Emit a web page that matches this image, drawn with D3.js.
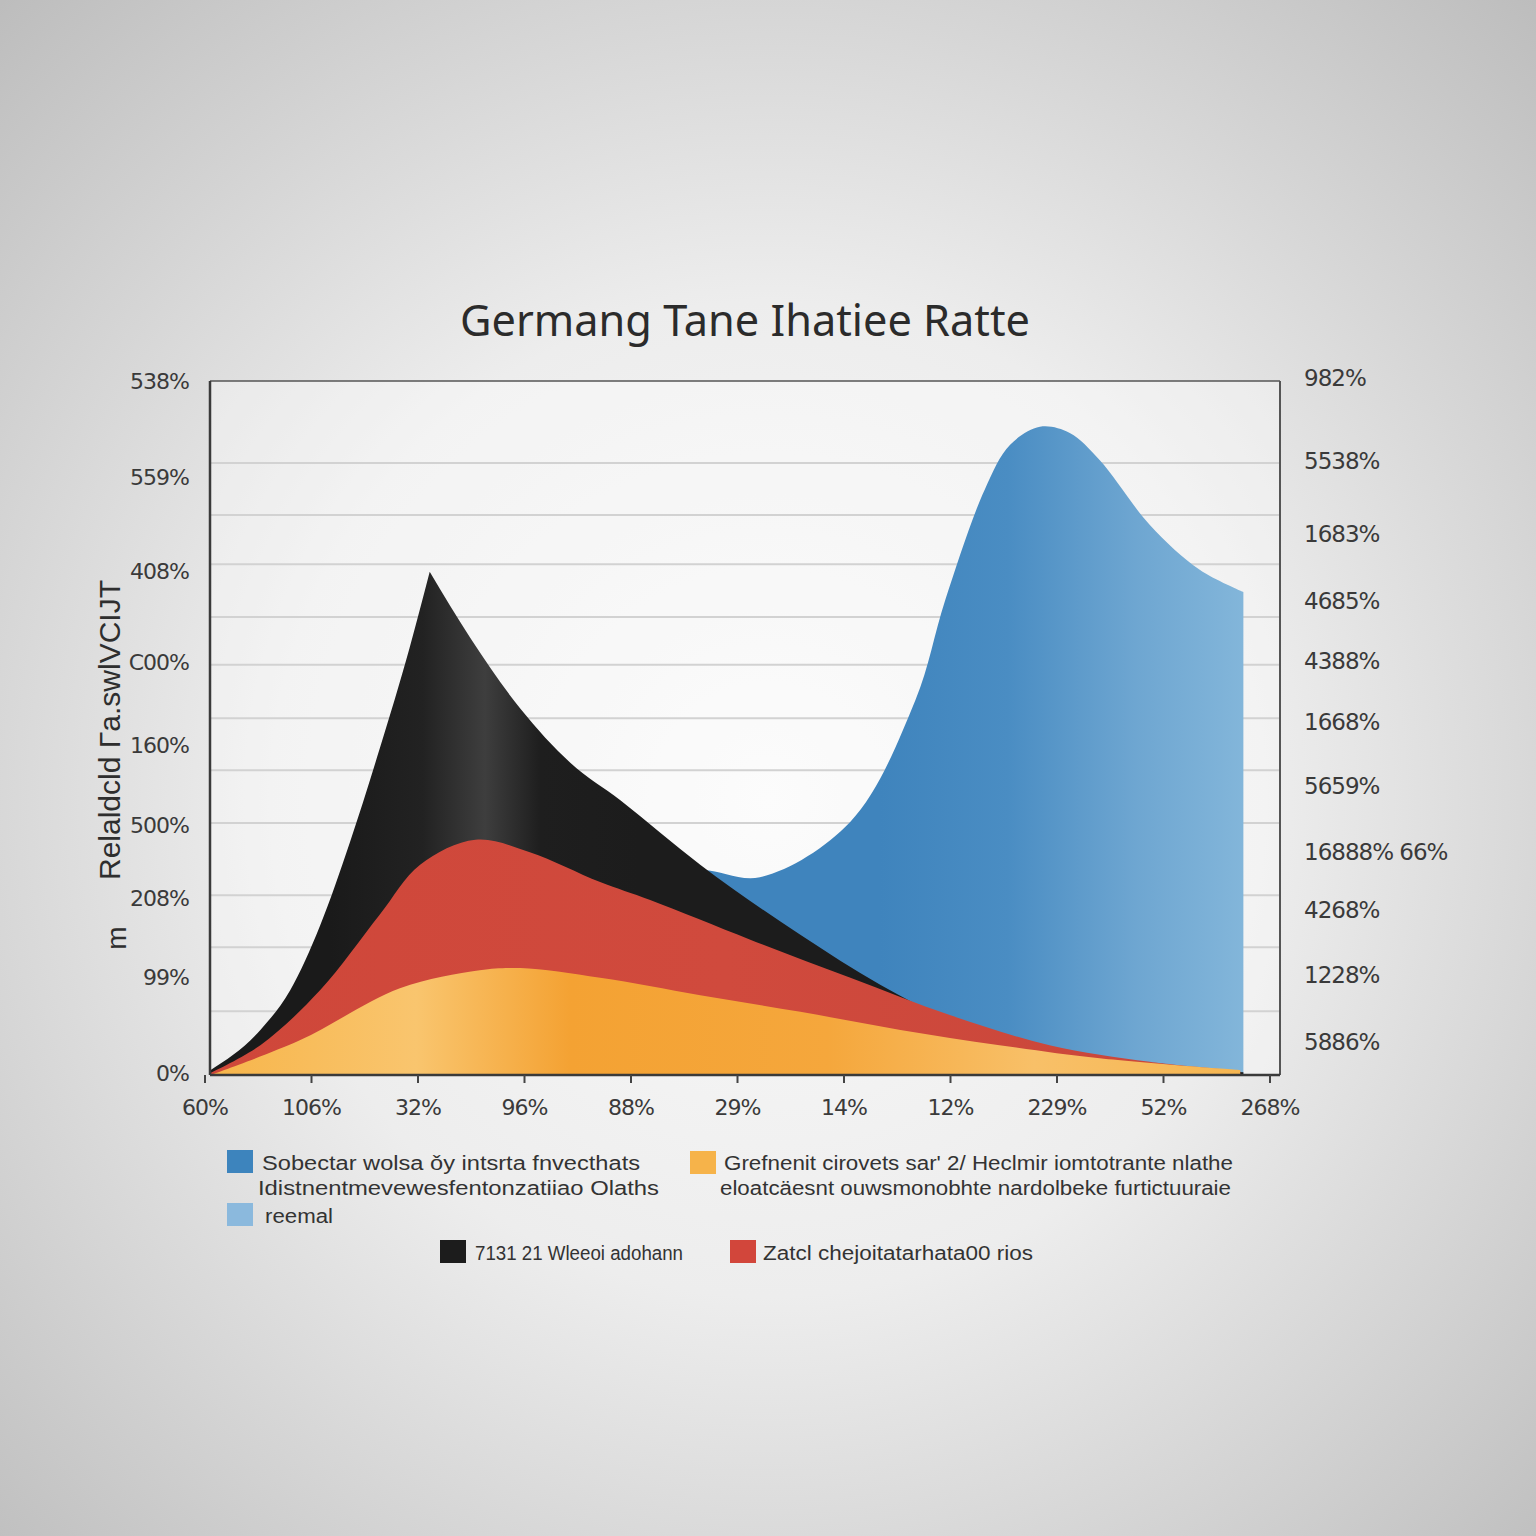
<!DOCTYPE html>
<html><head><meta charset="utf-8">
<script src="https://cdn.jsdelivr.net/npm/d3@7"></script>
<style>html,body{margin:0;padding:0;background:#ddd;}svg{display:block;}</style>
</head><body>
<script>
// ---- data ----
const xLabels = ["60%","106%","32%","96%","88%","29%","14%","12%","229%","52%","268%"];
const leftLabels = ["538%","559%","408%","C00%","160%","500%","208%","99%","0%"];
const leftPos = [100,86.2,72.6,59.5,47.6,36.0,25.5,14.1,0.3];
const rightLabels = ["982%","5538%","1683%","4685%","4388%","1668%","5659%","16888% 66%","4268%","1228%","5886%"];
const rightPos = [100.4,88.5,78,68.3,59.7,50.9,41.6,32.1,23.8,14.4,4.8];
const gridValues = [88.2,80.7,73.6,66.0,59.1,51.4,43.9,36.3,25.9,18.4,9.2];

const blueX  = [0.05,1.83,3.24,4.18,4.65,5.21,6.06,6.67,6.95,7.32,7.56,7.84,8.12,8.40,8.87,9.34,9.75];
const blueY  = [0,10.8,20.9,27.4,29.5,28.5,36.5,54.0,68.4,84.3,90.8,93.4,92.5,88.6,79.3,72.8,69.6];
const blackX = [0.05,0.52,0.8,1.08,1.36,1.64,1.92,2.11,2.49,2.96,3.43,3.90,4.65,5.59,6.34,7.0,7.93,8.87,9.75];
const blackY = [0.7,6.5,12.2,21.5,33.5,47.0,61.5,72.5,63.0,52.8,45.0,39.6,30.3,20.2,13.0,7.9,3.6,1.3,0.4];
const blackPeak = 7; // index of the sharp peak
const redX   = [0.05,0.52,1.08,1.64,2.02,2.54,3.05,3.71,4.18,5.12,6.06,7.0,7.93,8.87,9.72];
const redY   = [0.3,4.3,12.2,23.1,30.3,33.9,32.1,27.8,25.2,19.5,14.0,8.6,4.3,1.9,0.6];
const orangeX= [0.05,0.89,1.83,2.58,2.96,3.71,4.65,5.59,6.53,7.46,8.40,9.72];
const orangeY= [0,5.0,12.5,15.1,15.4,14.0,11.5,9.1,6.5,4.3,2.4,0.7];

const legendItems = [
  {color:"blue", lines:["Sobectar wolsa ǒy intsrta fnvecthats","Idistnentmevewesfentonzatiiao Olaths"]},
  {color:"lightblue", lines:["reemal"]},
  {color:"orange", lines:["Grefnenit cirovets sar' 2/ Heclmir iomtotrante nlathe","eloatcäesnt ouwsmonobhte nardolbeke furtictuuraie"]},
  {color:"black", lines:["7131 21 Wleeoi adohann"]},
  {color:"red", lines:["Zatcl chejoitatarhata00 rios"]}
];
const titleText = "Germang  Tane Ihatiee Ratte";
const yTitle = "Relaldcld Γa.swlVCIJT";

// ---- drawing ----
const W=1536,H=1536;
const svg=d3.select("body").append("svg").attr("width",W).attr("height",H);
const defs=svg.append("defs");
const bg=defs.append("radialGradient").attr("id","bg").attr("cx","50%").attr("cy","52%").attr("r","72%");
bg.append("stop").attr("offset","0").attr("stop-color","#fafafa");
bg.append("stop").attr("offset","0.45").attr("stop-color","#ededed");
bg.append("stop").attr("offset","1").attr("stop-color","#bdbdbd");
svg.append("rect").attr("width",W).attr("height",H).attr("fill","url(#bg)");

const L=210,R=1280,T=381,B=1075;
const x=d3.scaleLinear().domain([0,10]).range([205,1270]);
const y=d3.scaleLinear().domain([0,100]).range([B,T]);

svg.append("rect").attr("x",L).attr("y",T).attr("width",R-L).attr("height",B-T).attr("fill","#ffffff").attr("opacity",0.35);

svg.append("g").selectAll("line").data(gridValues).join("line")
  .attr("x1",L).attr("x2",R).attr("y1",d=>y(d)).attr("y2",d=>y(d))
  .attr("stroke","#d2d2d2").attr("stroke-width",2);

function hGrad(id,stops,x1,x2){
  const g=defs.append("linearGradient").attr("id",id).attr("gradientUnits","userSpaceOnUse")
    .attr("x1",x1).attr("x2",x2).attr("y1",0).attr("y2",0);
  stops.forEach(s=>g.append("stop").attr("offset",s[0]).attr("stop-color",s[1]));
}
hGrad("gBlue",[[0,"#3f84bd"],[0.35,"#4a8dc3"],[0.7,"#6ea6d1"],[1,"#83b6da"]],880,1245);
hGrad("gBlack",[[0,"#1a1a1a"],[0.3,"#222"],[0.5,"#3e3e3e"],[0.68,"#1e1e1e"],[1,"#1c1c1c"]],330,640);
hGrad("gRed",[[0,"#cf473a"],[0.5,"#d04a3d"],[1,"#c9463a"]],210,1240);
hGrad("gOrange",[[0,"#f7b54a"],[0.2,"#f9c56e"],[0.35,"#f4a233"],[0.6,"#f5a73c"],[0.8,"#f8c068"],[1,"#f6b651"]],210,1240);

function area(xs,ys,fill,curve){
  const pts=xs.map((v,i)=>[v,ys[i]]);
  const a=d3.area().x(d=>x(d[0])).y0(y(0)).y1(d=>y(d[1])).curve(curve);
  svg.append("path").attr("d",a(pts)).attr("fill",fill);
}
const smooth=d3.curveCatmullRom.alpha(0.5);
area(blueX,blueY,"url(#gBlue)",smooth);

// black: one path, two monotone halves meeting at a sharp peak
(function(){
  const pts=blackX.map((v,i)=>[v,blackY[i]]);
  const ln=d3.line().x(d=>x(d[0])).y(d=>y(d[1])).curve(d3.curveMonotoneX);
  const left=ln(pts.slice(0,blackPeak+1));
  const right=ln(pts.slice(blackPeak)).replace(/^M/,"L");
  const last=pts[pts.length-1], first=pts[0];
  const d=left+right+`L${x(last[0])},${y(0)}L${x(first[0])},${y(0)}Z`;
  svg.append("path").attr("d",d).attr("fill","url(#gBlack)");
})();

area(redX,redY,"url(#gRed)",smooth);
area(orangeX,orangeY,"url(#gOrange)",smooth);

// frame
svg.append("line").attr("x1",L).attr("x2",R).attr("y1",T).attr("y2",T).attr("stroke","#555").attr("stroke-width",1.5);
svg.append("line").attr("x1",R).attr("x2",R).attr("y1",T).attr("y2",B).attr("stroke","#555").attr("stroke-width",2);
svg.append("line").attr("x1",L).attr("x2",L).attr("y1",T).attr("y2",B).attr("stroke","#3a3a3a").attr("stroke-width",2.5);
svg.append("line").attr("x1",L).attr("x2",R).attr("y1",B).attr("y2",B).attr("stroke","#3a3a3a").attr("stroke-width",2.5);
svg.append("g").selectAll("line").data(xLabels).join("line")
  .attr("x1",(d,i)=>x(i)).attr("x2",(d,i)=>x(i)).attr("y1",B).attr("y2",B+8)
  .attr("stroke","#444").attr("stroke-width",2);

const axisFont="DejaVu Sans";
svg.append("g").selectAll("text").data(xLabels).join("text")
  .attr("x",(d,i)=>x(i)).attr("y",1115).attr("text-anchor","middle")
  .attr("font-family",axisFont).attr("font-size",22).attr("fill","#3a3a3a").attr("letter-spacing",-1).text(d=>d);
svg.append("g").selectAll("text").data(leftLabels).join("text")
  .attr("x",189).attr("y",(d,i)=>y(leftPos[i])+8).attr("text-anchor","end")
  .attr("font-family",axisFont).attr("font-size",22).attr("fill","#3a3a3a").attr("letter-spacing",-1).text(d=>d);
svg.append("g").selectAll("text").data(rightLabels).join("text")
  .attr("x",1304).attr("y",(d,i)=>y(rightPos[i])+8).attr("text-anchor","start")
  .attr("font-family",axisFont).attr("font-size",23).attr("fill","#3a3a3a").attr("letter-spacing",-1).text(d=>d);

// title
svg.append("text").attr("x",745).attr("y",336).attr("text-anchor","middle")
  .attr("font-family","Noto Sans").attr("font-size",44).attr("fill","#2b2b2b")
  .attr("textLength",570).attr("lengthAdjust","spacingAndGlyphs").text(titleText);

// y title
svg.append("text").attr("transform","translate(120,730) rotate(-90)").attr("text-anchor","middle")
  .attr("font-family","Liberation Sans").attr("font-size",30).attr("fill","#2e2e2e")
  .attr("textLength",300).attr("lengthAdjust","spacingAndGlyphs").text(yTitle);
svg.append("text").attr("transform","translate(126,938) rotate(-90)").attr("text-anchor","middle")
  .attr("font-family","Liberation Sans").attr("font-size",28).attr("fill","#2e2e2e").text("m");

// legend
const colors={blue:"#3d84bd",lightblue:"#8bb9dd",orange:"#f6b34a",black:"#1c1c1c",red:"#d2463b"};
const legPos=[
  {sx:227,sy:1150,tx:262,ty:1170,w:[378,401]},
  {sx:227,sy:1203,tx:265,ty:1223,w:[68]},
  {sx:690,sy:1151,tx:724,ty:1170,w:[509,511]},
  {sx:440,sy:1240,tx:475,ty:1260,w:[208]},
  {sx:730,sy:1240,tx:763,ty:1260,w:[270]}
];
const lg=svg.append("g");
legendItems.forEach((it,i)=>{
  const p=legPos[i];
  lg.append("rect").attr("x",p.sx).attr("y",p.sy).attr("width",26).attr("height",23).attr("fill",colors[it.color]);
  it.lines.forEach((ln,j)=>{
    lg.append("text").attr("x",p.tx-(j?4:0)).attr("y",p.ty+j*25)
      .attr("font-family","Liberation Sans").attr("font-size",20).attr("fill","#333")
      .attr("textLength",p.w[j]).attr("lengthAdjust","spacingAndGlyphs").text(ln);
  });
});
</script>
</body></html>
